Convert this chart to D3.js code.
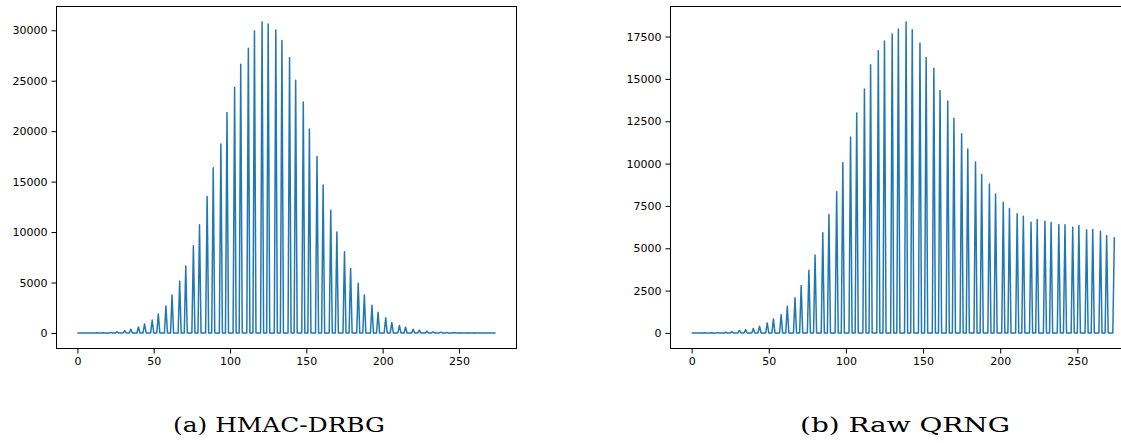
<!DOCTYPE html>
<html>
<head>
<meta charset="utf-8">
<script src="https://cdn.jsdelivr.net/npm/d3@7"></script>
<style>
  html, body { margin: 0; padding: 0; background: #fff; }
  svg { display: block; }
</style>
</head>
<body>
<svg id="chart" width="1121" height="443"></svg>
<script>
// Positions (x) where the histogram has non-zero counts
const spikeX = [4, 8, 13, 17, 22, 26, 31, 35, 40, 44, 49, 53, 58, 62, 67, 71, 76, 80, 85, 89,
  94, 98, 103, 107, 112, 116, 121, 125, 130, 134, 139, 143, 148, 152, 157, 161, 166, 170, 175, 179,
  184, 188, 193, 197, 202, 206, 211, 215, 220, 224, 229, 233, 238, 242, 247, 251, 256, 260, 265, 269, 274];

// (a) HMAC-DRBG counts at those positions
const hmacValues = [0, 3, 10, 25, 55, 110, 230, 360, 590, 890, 1280, 1875, 2665, 3750, 5130, 6640, 8650, 10720, 13520, 16365,
  18733, 21862, 24359, 26630, 28208, 29955, 30815, 30617, 30025, 28990, 27290, 25050, 22900, 20214, 17490, 14657, 12160, 10018, 8044, 6396,
  4915, 3770, 2744, 2053, 1500, 1036, 740, 572, 375, 276, 178, 110, 80, 60, 40, 25, 15, 10, 5, 3, 0];

// (b) Raw QRNG counts at those positions
const qrngValues = [2, 5, 10, 20, 40, 80, 150, 200, 260, 400, 590, 830, 1080, 1570, 2080, 2800, 3700, 4600, 5915, 6990,
  8340, 10060, 11568, 12994, 14402, 15835, 16657, 17243, 17654, 17948, 18357, 17906, 17125, 16263, 15635, 14308, 13698, 12683, 11762, 10864,
  10101, 9355, 8792, 8205, 7712, 7342, 7031, 6891, 6538, 6697, 6597, 6520, 6403, 6385, 6245, 6345, 6092, 6109, 6010, 5757, 5658];

const xTicks = [0, 50, 100, 150, 200, 250];
const yTicksA = [0, 5000, 10000, 15000, 20000, 25000, 30000];
const yTicksB = [0, 2500, 5000, 7500, 10000, 12500, 15000, 17500];
const captions = ["(a) HMAC-DRBG", "(b) Raw QRNG"];

const xMax = 274;

function buildSeries(values) {
  const m = new Map(spikeX.map((x, i) => [x, values[i]]));
  return d3.range(0, xMax + 1).map(x => ({ x, y: m.has(x) ? m.get(x) : 0 }));
}

const svg = d3.select("#chart");

function panel(opts) {
  const { left, right, top, bottom, values, yTicks, caption, capX, capW } = opts;
  const data = buildSeries(values);
  const xPad = xMax * 0.05;
  const x = d3.scaleLinear().domain([-xPad, xMax + xPad]).range([left, right]);
  const yM = d3.max(values);
  const y = d3.scaleLinear().domain([-yM * 0.05, yM * 1.05]).range([bottom, top]);

  const clipId = "clip" + Math.round(left);
  svg.append("clipPath").attr("id", clipId)
    .append("rect").attr("x", left).attr("y", top).attr("width", right - left).attr("height", bottom - top);

  svg.append("path")
    .datum(data)
    .attr("clip-path", `url(#${clipId})`)
    .attr("fill", "none")
    .attr("stroke", "#1f77b4")
    .attr("stroke-width", 1.5)
    .attr("stroke-linejoin", "round")
    .attr("d", d3.line().x(d => x(d.x)).y(d => y(d.y)));

  const xAxis = svg.append("g")
    .attr("transform", `translate(0,${bottom})`)
    .call(d3.axisBottom(x).tickValues(xTicks).tickFormat(d3.format("d")).tickSizeOuter(0).tickSize(5).tickPadding(4));
  const yAxis = svg.append("g")
    .attr("transform", `translate(${left},0)`)
    .call(d3.axisLeft(y).tickValues(yTicks).tickFormat(d3.format("d")).tickSizeOuter(0).tickSize(5).tickPadding(4));
  [xAxis, yAxis].forEach(g => {
    g.select(".domain").remove();
    g.selectAll("line").attr("stroke", "#000").attr("stroke-width", 1);
    g.selectAll("text").attr("font-family", "DejaVu Sans").attr("font-size", 11).attr("fill", "#000");
  });

  svg.append("rect")
    .attr("x", left).attr("y", top)
    .attr("width", right - left).attr("height", bottom - top)
    .attr("fill", "none").attr("stroke", "#000").attr("stroke-width", 1);

  svg.append("text")
    .attr("x", capX - capW / 2).attr("y", 432)
    .attr("font-family", "DejaVu Serif")
    .attr("font-size", 21)
    .attr("textLength", capW)
    .attr("lengthAdjust", "spacingAndGlyphs")
    .attr("fill", "#000")
    .text(caption);
}

panel({ left: 56.5, right: 516.5, top: 6.5, bottom: 348.5, values: hmacValues, yTicks: yTicksA, caption: captions[0], capX: 279, capW: 212 });
panel({ left: 670.5, right: 1135.5, top: 6.5, bottom: 348.5, values: qrngValues, yTicks: yTicksB, caption: captions[1], capX: 905, capW: 210 });
</script>
</body>
</html>
